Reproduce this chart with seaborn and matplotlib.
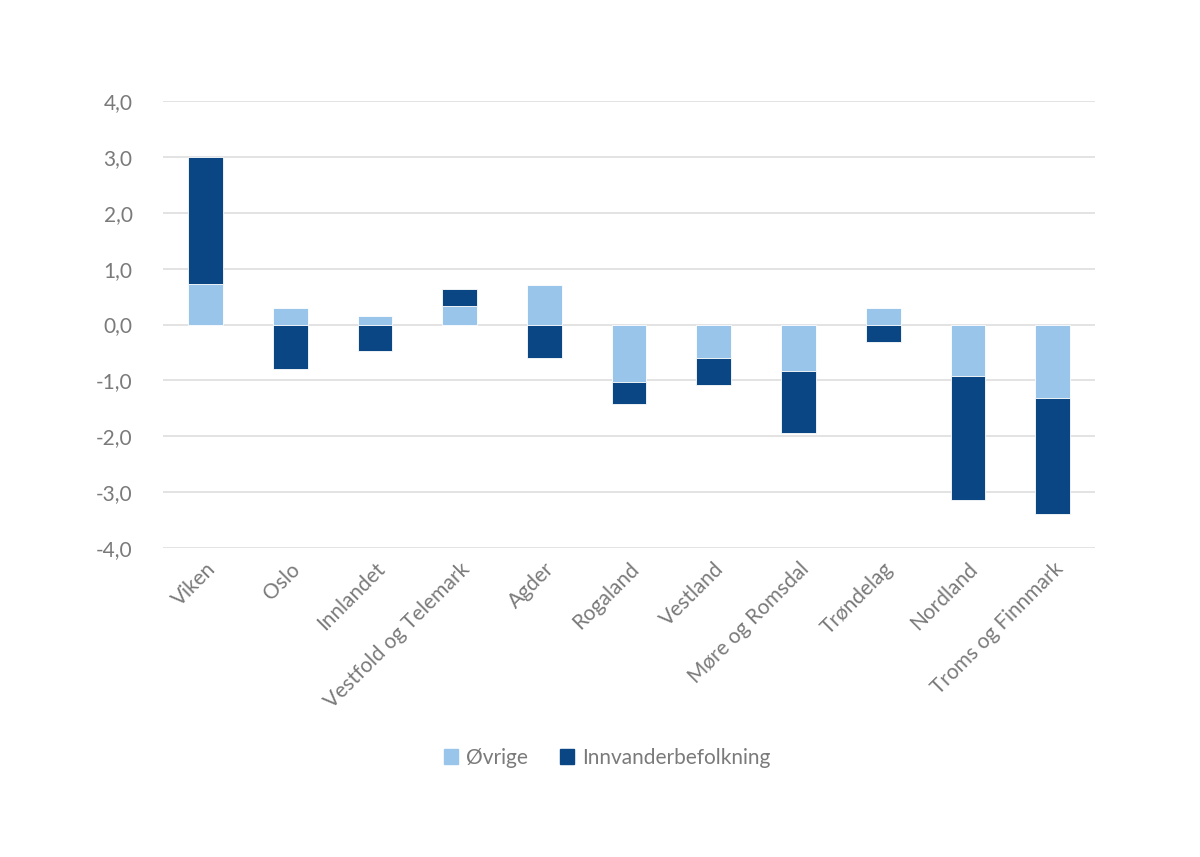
import numpy as np
import pandas as pd
import seaborn as sns
import matplotlib.pyplot as plt
from matplotlib.ticker import FuncFormatter
from matplotlib.patches import Patch

regions = ['Viken', 'Oslo', 'Innlandet', 'Vestfold og Telemark', 'Agder', 'Rogaland',
           'Vestland', 'Møre og Romsdal', 'Trøndelag', 'Nordland', 'Troms og Finnmark']
ovrige = [0.73, 0.29, 0.15, 0.33, 0.70, -1.03, -0.59, -0.84, 0.30, -0.93, -1.32]
innvandrer = [2.27, -0.80, -0.48, 0.31, -0.59, -0.40, -0.50, -1.11, -0.32, -2.22, -2.08]

light = '#99C5EB'
dark = '#0A4684'
grey = '#7a7a7a'

sns.set_theme(style='white')
plt.rcParams['font.family'] = ['Lato', 'DejaVu Sans']

df = pd.DataFrame({'region': regions, 'ovrige': ovrige, 'innv': innvandrer})
# excel stacks same-sign values on top of each other, opposite signs start at 0
df['innv_bottom'] = np.where(np.sign(df['innv']) == np.sign(df['ovrige']), df['ovrige'], 0.0)

fig = plt.figure(figsize=(12, 8.57), dpi=100)
ax = fig.add_axes([0.136, 0.3606, 0.7765, 0.5214])

sns.barplot(data=df, x='region', y='ovrige', color=light, width=0.41, saturation=1,
            edgecolor='white', linewidth=0.6, ax=ax)
sns.barplot(data=df, x='region', y='innv', color=dark, width=0.41, saturation=1,
            bottom=df['innv_bottom'].values, edgecolor='white', linewidth=0.6, ax=ax)

ax.set_ylim(-4, 4)
ax.set_xlim(-0.5, len(regions) - 0.5)
ax.set_yticks(np.arange(-4, 5, 1))
ax.yaxis.set_major_formatter(FuncFormatter(lambda v, p: f'{v:.1f}'.replace('.', ',')))
ax.grid(axis='y', color='#dedede', linewidth=1.2)
ax.set_axisbelow(True)
sns.despine(ax=ax, left=True, bottom=True)
ax.set_xlabel('')
ax.set_ylabel('')
ax.tick_params(axis='y', colors=grey, labelsize=15, length=0, pad=22)
ax.tick_params(axis='x', colors=grey, labelsize=15, length=0, pad=8)
plt.setp(ax.get_xticklabels(), rotation=45, ha='right', rotation_mode='anchor')

handles = [Patch(color=light, label='Øvrige'), Patch(color=dark, label='Innvanderbefolkning')]
leg = fig.legend(handles=handles, loc='center', bbox_to_anchor=(0.506, 0.1155), ncol=2,
                 frameon=False, fontsize=15, handlelength=0.7, handleheight=0.7,
                 handletextpad=0.4, columnspacing=1.5)
for t in leg.get_texts():
    t.set_color(grey)

fig.savefig('out.png', dpi=100)
